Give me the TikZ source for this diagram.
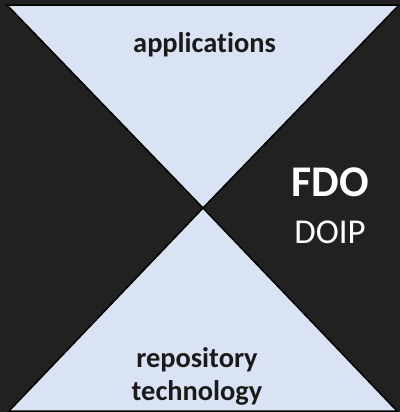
\documentclass[tikz,border=0pt]{standalone}
\usepackage{fontspec}
\setmainfont{Carlito}[Ligatures=NoCommon]
\usetikzlibrary{calc}
\definecolor{bgdark}{HTML}{212121}
\definecolor{paleblue}{HTML}{DAE3F3}
\definecolor{inkdark}{HTML}{1A1A1A}

\tikzset{
  wedge/.style={fill=paleblue, draw=black, line width=1.5bp, line join=miter},
  lbl/.style={anchor=base, inner sep=0pt, align=center},
}

\begin{document}
\begin{tikzpicture}[x=1bp,y=-1bp]
\fill [bgdark] (0,0) rectangle (400,412);
\useasboundingbox (0,0) rectangle (400,412);
\coordinate (mid) at (203,208);
% top and bottom wedges
\filldraw [wedge] (7,5) -- (399,5) -- (mid) -- cycle;
\filldraw [wedge] (9,411) -- (397,411) -- (mid) -- cycle;
\node (app) [lbl, text=inkdark, font=\bfseries\fontsize{28.5}{33}\selectfont] at (204.5,52) {applications};
\node (repo) [lbl, text=inkdark, font=\bfseries\fontsize{28.5}{33}\selectfont] at (197,400) {repository\\technology};
\node (fdo) [lbl, text=white, font=\bfseries\fontsize{44}{50}\selectfont] at (330,196) {FDO};
\node (doip) [lbl, text=white, font=\fontsize{35}{40}\selectfont] at (330,243) {DOIP};
\end{tikzpicture}
\end{document}
